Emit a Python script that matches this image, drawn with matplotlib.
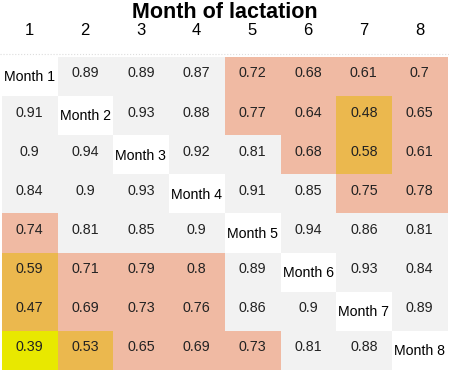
import numpy as np
import matplotlib
matplotlib.use("Agg")
from matplotlib import pyplot as plt
from matplotlib.colors import ListedColormap, BoundaryNorm
from matplotlib.lines import Line2D

plt.rcParams['font.family'] = ['Liberation Sans', 'DejaVu Sans']

months = ["1", "2", "3", "4", "5", "6", "7", "8"]
diag_labels = ["Month 1", "Month 2", "Month 3", "Month 4",
               "Month 5", "Month 6", "Month 7", "Month 8"]
nan = np.nan
corr = np.array([
    [nan, 0.89, 0.89, 0.87, 0.72, 0.68, 0.61, 0.70],
    [0.91, nan, 0.93, 0.88, 0.77, 0.64, 0.48, 0.65],
    [0.90, 0.94, nan, 0.92, 0.81, 0.68, 0.58, 0.61],
    [0.84, 0.90, 0.93, nan, 0.91, 0.85, 0.75, 0.78],
    [0.74, 0.81, 0.85, 0.90, nan, 0.94, 0.86, 0.81],
    [0.59, 0.71, 0.79, 0.80, 0.89, nan, 0.93, 0.84],
    [0.47, 0.69, 0.73, 0.76, 0.86, 0.90, nan, 0.89],
    [0.39, 0.53, 0.65, 0.69, 0.73, 0.81, 0.88, nan],
])

# 颜色分级
cmap = ListedColormap(["#e8e800", "#ebb84e", "#f0baa3", "#f2f2f2"])
cmap.set_bad("white")
norm = BoundaryNorm([0.0, 0.4, 0.6, 0.805, 1.0], cmap.N)

fig = plt.figure(figsize=(4.49, 3.70), dpi=100)
ax = fig.add_axes([1.5 / 449, 0, 446 / 449, 1 - 57 / 370])
ax.imshow(np.ma.masked_invalid(corr), cmap=cmap, norm=norm, aspect="auto",
          interpolation="nearest")

n = len(months)
for i in range(n):
    for j in range(n):
        if i == j:
            ax.text(j, i + 0.02, diag_labels[i], ha="center", va="center",
                    fontsize=10.2, color="black")
        else:
            ax.text(j, i - 0.08, format(corr[i, j], "g"), ha="center",
                    va="center", fontsize=10.3, color="#222222")

ax.set_xticks(range(n))
ax.set_xticklabels(months, fontsize=12)
ax.xaxis.tick_top()
ax.tick_params(axis="x", length=0, pad=14)
ax.set_yticks([])
for s in ax.spines.values():
    s.set_visible(False)

fig.text(0.5, 1 - 12 / 370, "Month of lactation", ha="center", va="center",
         fontsize=15.5, fontweight="bold")
fig.add_artist(Line2D([0, 1], [1 - 54 / 370, 1 - 54 / 370], color="#dddddd",
                      linestyle=":", linewidth=0.8))

fig.savefig("out.png", dpi=100)
